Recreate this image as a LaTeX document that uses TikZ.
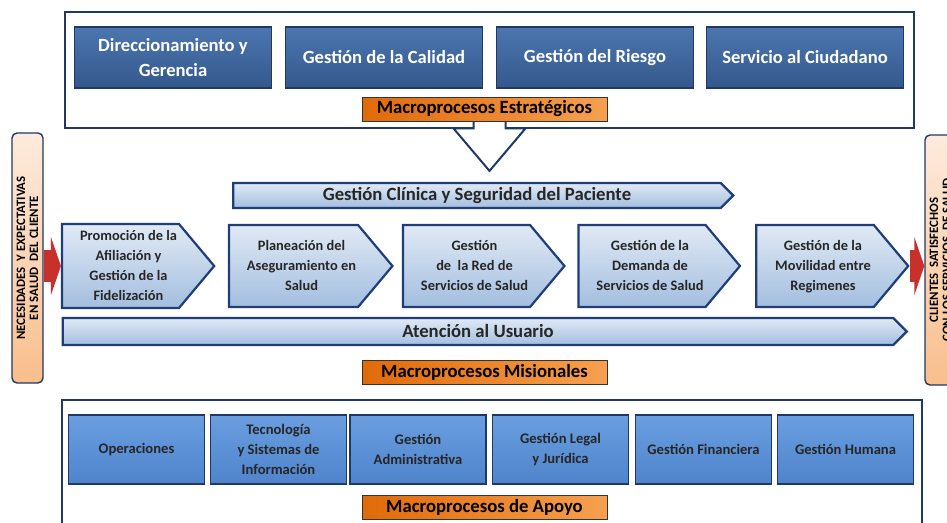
\documentclass[tikz,border=0pt]{standalone}
\usepackage{fontspec}
\setmainfont{Carlito}
\usetikzlibrary{positioning, arrows.meta, calc, shapes.symbols}

\definecolor{navy}{HTML}{1F3864}
\definecolor{stratdark}{HTML}{34588C}
\definecolor{stratlight}{HTML}{4C76B0}
\definecolor{misborder}{HTML}{1F3D7A}
\definecolor{mislight}{HTML}{E1EAF5}
\definecolor{misdark}{HTML}{A3BEDF}
\definecolor{apoyolight}{HTML}{6A9EE0}
\definecolor{apoyodark}{HTML}{4F84CC}
\definecolor{labeldark}{HTML}{E06A08}
\definecolor{labellight}{HTML}{F7A050}
\definecolor{peach}{HTML}{F9BE8C}
\definecolor{peachlight}{HTML}{FDEBDD}
\definecolor{flowred}{HTML}{C8302C}

% texto del chevron, corrido hacia la punta
\newcommand{\chevtext}[1]{\begin{tabular}{@{\hspace{16pt}}c@{}}#1\end{tabular}}

\begin{document}
\begin{tikzpicture}[x=1pt, y=-1pt,
    frame/.style={draw=navy, line width=2pt},
    estbox/.style={draw=navy, line width=1.6pt, top color=stratlight, bottom color=stratdark,
        text=white, font=\fontsize{18.6}{25}\selectfont\bfseries, align=center,
        minimum width=197, minimum height=61, inner sep=2pt},
    misarrow/.style={signal, signal to=east, draw=misborder, line width=2.2pt,
        top color=mislight, bottom color=misdark, text=black!85, align=center, inner sep=2pt},
    chevron/.style={misarrow, signal pointer angle=100, minimum width=152, minimum height=82,
        font=\fontsize{14.4}{20}\selectfont\bfseries},
    bar/.style={misarrow, signal pointer angle=90, font=\fontsize{18.7}{20}\selectfont\bfseries},
    apobox/.style={draw=navy, line width=1.8pt, top color=apoyolight, bottom color=apoyodark,
        text=black!85, font=\fontsize{14.6}{20}\selectfont\bfseries, align=center,
        minimum width=136, minimum height=69, inner sep=2pt},
    macrolabel/.style={draw=black!80, line width=0.8pt, left color=labeldark, right color=labellight,
        font=\fontsize{18.7}{20}\selectfont\bfseries, minimum width=245, minimum height=24, inner sep=1pt},
    sidebox/.style={draw=navy, line width=1.4pt, rounded corners=5pt, top color=peachlight,
        bottom color=peach, rotate=90, align=center, font=\fontsize{12.8}{13}\selectfont\bfseries,
        minimum width=250, minimum height=31, inner sep=1pt},
    redflow/.style={draw=flowred, line width=32pt, -{Triangle[length=10pt, width=58pt]}},
    hollow/.style={draw=navy, fill=white, line width=2pt, line join=miter}
]
\useasboundingbox (0,0) rectangle (947,522);
\clip (0,0) rectangle (947,522);

% Macroprocesos estrategicos
\draw[frame] (65,12) rectangle (914,128);
\node[estbox] (dir) at (173,57.5) {Direccionamiento y\\Gerencia};
\node[estbox] (cal) at (384,57.5) {Gestión de la Calidad};
\node[estbox] (rie) at (595,57.5) {Gestión del Riesgo};
\node[estbox] (ciu) at (805,57.5) {Servicio al Ciudadano};

% Macroprocesos misionales
\node[bar, minimum width=500, minimum height=25] (gcs) at (477,195.5) {Gestión Clínica y Seguridad del Paciente};
\node[chevron] (prom) at (120.5,266) {\chevtext{Promoción de la\\Afiliación y\\Gestión de la\\Fidelización}};
\node[chevron] (plan) at (293.5,266) {\chevtext{Planeación del\\Aseguramiento en\\Salud}};
\node[chevron] (red) at (466.5,266) {\chevtext{Gestión\\de\ \ la Red de\\Servicios de Salud}};
\node[chevron] (dem) at (642,266) {\chevtext{Gestión de la\\Demanda de\\Servicios de Salud}};
\node[chevron] (mov) at (815,266) {\chevtext{Gestión de la\\Movilidad entre\\Regimenes}};
\node[bar, minimum width=844, minimum height=27] (aten) at (478,331.5) {Atención al Usuario};

% flecha hacia los misionales
\node[macrolabel] (est) at (484.5,109) {Macroprocesos Estratégicos};
\path (est.south) ++(5,0) coordinate (dtop);
\path (gcs.north -| dtop) ++(0,-11) coordinate (dtip);
\draw[hollow] ($(dtop)+(-16,0)$) -- ++(0,7) -- ++(-20,0) -- (dtip)
    -- ($(dtop)+(36,7)$) -- ++(-20,0) -- ++(0,-7);
\node[macrolabel] at (est) {Macroprocesos Estratégicos};
\node[macrolabel] (misi) at (484.5,372.5) {Macroprocesos Misionales};

% cliente
\node[sidebox] (nec) at (27.5,258) {NECESIDADES\ \ Y EXPECTATIVAS\\EN SALUD\ \ DEL CLIENTE};
\node[sidebox] (cli) at (940.5,260) {CLIENTES\ \ SATISFECHOS\\CON LOS SERVICIOS\ \ DE SALUD};
\draw[redflow] (prom.west -| nec.south) -- (prom.west);
\draw[redflow] (mov.east) -- (mov.east -| cli.north);

% Macroprocesos de apoyo
\draw[frame] (62,400) rectangle (922,540);
\node[apobox] (ope) at (136.5,449.5) {Operaciones};
\node[apobox] (tec) at (278.5,449.5) {Tecnología\\y Sistemas de\\Información};
\node[apobox] (adm) at (418,449.5) {Gestión\\Administrativa};
\node[apobox] (leg) at (560.5,449.5) {Gestión Legal\\y Jurídica};
\node[apobox] (fin) at (703.5,449.5) {Gestión Financiera};
\node[apobox] (hum) at (845.5,449.5) {Gestión Humana};
\node[macrolabel] (apo) at (484.5,507.5) {Macroprocesos de Apoyo};
\end{tikzpicture}
\end{document}
